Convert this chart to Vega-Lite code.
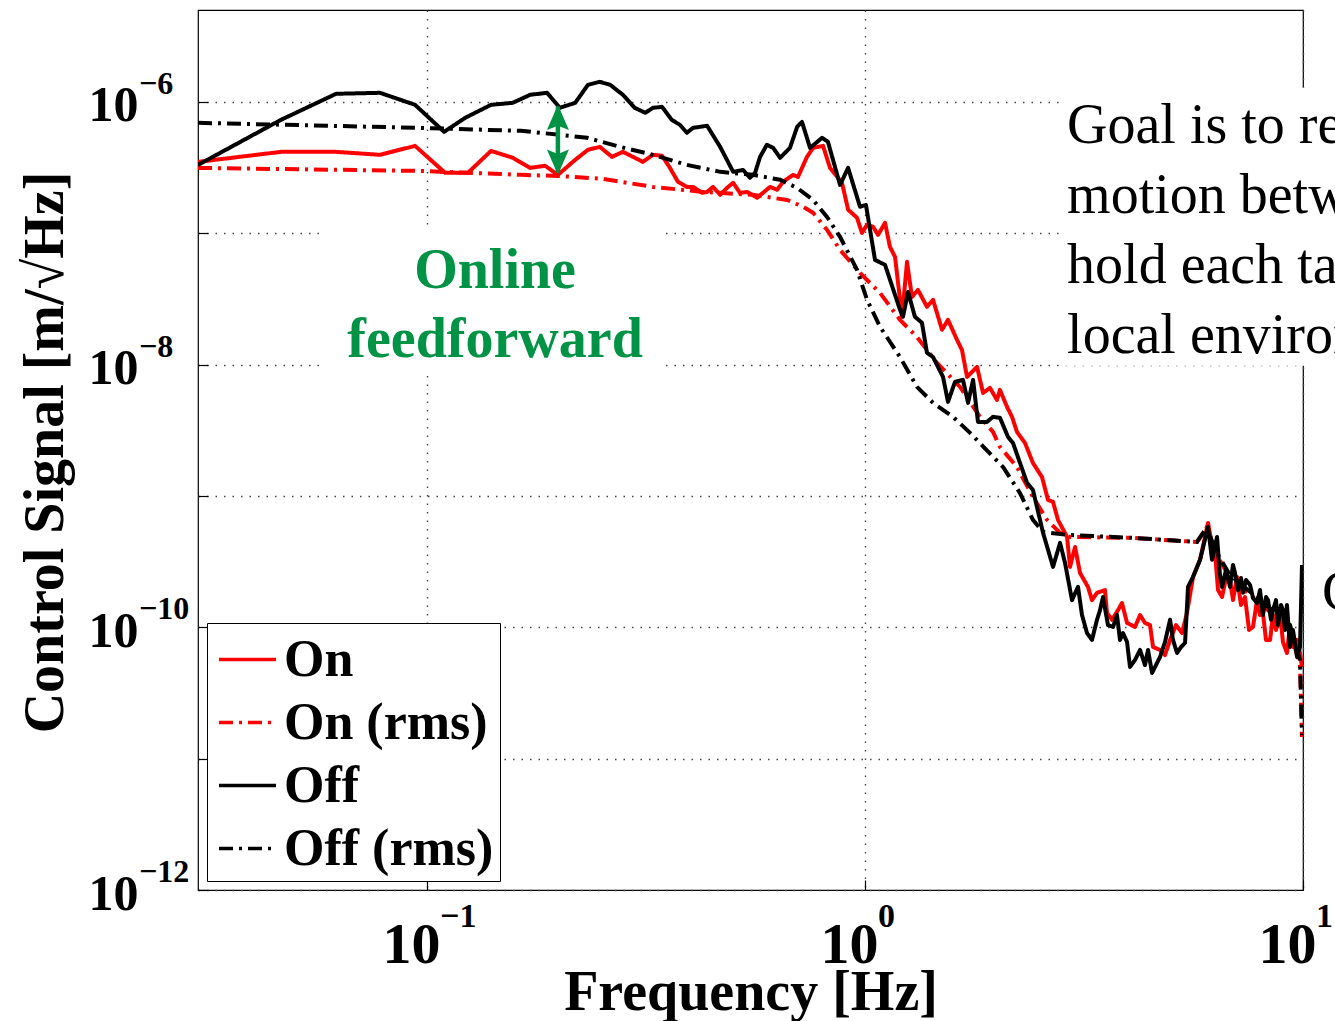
{
  "$schema": "https://vega.github.io/schema/vega-lite/v6.json",
  "width": 1105,
  "height": 880,
  "autosize": "none",
  "padding": {"left": 198, "top": 10, "right": 32, "bottom": 131},
  "background": "white",
  "config": {
    "view": {"stroke": "black", "strokeWidth": 1.2},
    "font": "Liberation Serif",
    "legend": {
      "orient": "bottom-left",
      "offset": 9,
      "fillColor": "white",
      "strokeColor": "black",
      "padding": 6,
      "symbolOffset": 4,
      "labelFont": "Liberation Serif",
      "labelFontWeight": "bold",
      "labelFontSize": 52,
      "labelColor": "black",
      "labelLimit": 500,
      "labelOffset": 6,
      "symbolType": "stroke",
      "symbolSize": 3249,
      "symbolStrokeWidth": 3.5,
      "rowPadding": 6
    }
  },
  "datasets": {
    "curves": [
      {"s":"On","f":0.0300,"v":3.49e-7},{"s":"On","f":0.0464,"v":4.16e-7},{"s":"On","f":0.0620,"v":4.16e-7},{"s":"On","f":0.0781,"v":3.95e-7},{"s":"On","f":0.0939,"v":4.62e-7},{"s":"On","f":0.110,"v":2.88e-7},{"s":"On","f":0.124,"v":2.88e-7},{"s":"On","f":0.140,"v":4.23e-7},{"s":"On","f":0.157,"v":3.75e-7},{"s":"On","f":0.172,"v":3.14e-7},{"s":"On","f":0.186,"v":3.26e-7},{"s":"On","f":0.199,"v":2.78e-7},{"s":"On","f":0.218,"v":3.62e-7},{"s":"On","f":0.233,"v":4.31e-7},{"s":"On","f":0.248,"v":4.54e-7},{"s":"On","f":0.2645,"v":3.81e-7},{"s":"On","f":0.280,"v":4.16e-7},{"s":"On","f":0.2953,"v":3.81e-7},{"s":"On","f":0.311,"v":3.49e-7},{"s":"On","f":0.328,"v":3.95e-7},{"s":"On","f":0.344,"v":3.88e-7},{"s":"On","f":0.3587,"v":3.14e-7},{"s":"On","f":0.374,"v":2.46e-7},{"s":"On","f":0.392,"v":2.25e-7},{"s":"On","f":0.405,"v":2.25e-7},{"s":"On","f":0.4245,"v":2.03e-7},{"s":"On","f":0.436,"v":2.06e-7},{"s":"On","f":0.4498,"v":2.25e-7},{"s":"On","f":0.467,"v":1.96e-7},{"s":"On","f":0.484,"v":2.21e-7},{"s":"On","f":0.500,"v":2.42e-7},{"s":"On","f":0.518,"v":2.03e-7},{"s":"On","f":0.538,"v":2.06e-7},{"s":"On","f":0.567,"v":1.86e-7},{"s":"On","f":0.585,"v":2.03e-7},{"s":"On","f":0.607,"v":2.25e-7},{"s":"On","f":0.630,"v":2.14e-7},{"s":"On","f":0.650,"v":2.46e-7},{"s":"On","f":0.685,"v":2.78e-7},{"s":"On","f":0.703,"v":2.68e-7},{"s":"On","f":0.737,"v":3.81e-7},{"s":"On","f":0.761,"v":4.46e-7},{"s":"On","f":0.802,"v":4.62e-7},{"s":"On","f":0.832,"v":3.14e-7},{"s":"On","f":0.886,"v":2.42e-7},{"s":"On","f":0.915,"v":1.51e-7},{"s":"On","f":0.959,"v":1.31e-7},{"s":"On","f":0.984,"v":1.006e-7},{"s":"On","f":1.011,"v":1.16e-7},{"s":"On","f":1.043,"v":1.12e-7},{"s":"On","f":1.071,"v":9.71e-8},{"s":"On","f":1.111,"v":1.20e-7},{"s":"On","f":1.140,"v":7.87e-8},{"s":"On","f":1.171,"v":6.60e-8},{"s":"On","f":1.215,"v":2.31e-8},{"s":"On","f":1.247,"v":6.05e-8},{"s":"On","f":1.280,"v":3.27e-8},{"s":"On","f":1.321,"v":3.70e-8},{"s":"On","f":1.385,"v":2.75e-8},{"s":"On","f":1.430,"v":3.11e-8},{"s":"On","f":1.499,"v":1.84e-8},{"s":"On","f":1.547,"v":2.19e-8},{"s":"On","f":1.622,"v":1.54e-8},{"s":"On","f":1.665,"v":1.29e-8},{"s":"On","f":1.710,"v":8.05e-9},{"s":"On","f":1.802,"v":9.60e-9},{"s":"On","f":1.860,"v":6.08e-9},{"s":"On","f":1.929,"v":6.64e-9},{"s":"On","f":2.001,"v":5.38e-9},{"s":"On","f":2.033,"v":6.41e-9},{"s":"On","f":2.110,"v":4.76e-9},{"s":"On","f":2.166,"v":4.00e-9},{"s":"On","f":2.223,"v":3.07e-9},{"s":"On","f":2.319,"v":2.53e-9},{"s":"On","f":2.418,"v":1.78e-9},{"s":"On","f":2.536,"v":1.39e-9},{"s":"On","f":2.617,"v":9.32e-10},{"s":"On","f":2.687,"v":9.00e-10},{"s":"On","f":2.758,"v":6.57e-10},{"s":"On","f":2.893,"v":4.87e-10},{"s":"On","f":2.938,"v":2.88e-10},{"s":"On","f":3.017,"v":4.09e-10},{"s":"On","f":3.097,"v":2.59e-10},{"s":"On","f":3.229,"v":2.03e-10},{"s":"On","f":3.298,"v":1.61e-10},{"s":"On","f":3.386,"v":1.83e-10},{"s":"On","f":3.531,"v":1.92e-10},{"s":"On","f":3.568,"v":1.29e-10},{"s":"On","f":3.664,"v":1.14e-10},{"s":"On","f":3.781,"v":1.35e-10},{"s":"On","f":3.861,"v":1.53e-10},{"s":"On","f":3.965,"v":1.08e-10},{"s":"On","f":4.135,"v":1.006e-10},{"s":"On","f":4.246,"v":1.24e-10},{"s":"On","f":4.357,"v":1.08e-10},{"s":"On","f":4.474,"v":1.04e-10},{"s":"On","f":4.546,"v":7.08e-11},{"s":"On","f":4.716,"v":6.72e-11},{"s":"On","f":4.841,"v":6.15e-11},{"s":"On","f":4.971,"v":8.01e-11},{"s":"On","f":5.129,"v":1.04e-10},{"s":"On","f":5.295,"v":9.05e-11},{"s":"On","f":5.435,"v":1.29e-10},{"s":"On","f":5.610,"v":2.42e-10},{"s":"On","f":5.820,"v":3.26e-10},{"s":"On","f":6.070,"v":6.23e-10},{"s":"On","f":6.198,"v":4.23e-10},{"s":"On","f":6.297,"v":3.68e-10},{"s":"On","f":6.397,"v":1.92e-10},{"s":"On","f":6.533,"v":1.70e-10},{"s":"On","f":6.672,"v":2.37e-10},{"s":"On","f":6.813,"v":2.29e-10},{"s":"On","f":6.922,"v":1.61e-10},{"s":"On","f":7.068,"v":2.42e-10},{"s":"On","f":7.218,"v":1.48e-10},{"s":"On","f":7.372,"v":1.70e-10},{"s":"On","f":7.53,"v":9.54e-11},{"s":"On","f":7.689,"v":1.006e-10},{"s":"On","f":7.852,"v":1.61e-10},{"s":"On","f":7.977,"v":1.24e-10},{"s":"On","f":8.10,"v":1.29e-10},{"s":"On","f":8.232,"v":8.01e-11},{"s":"On","f":8.41,"v":8.01e-11},{"s":"On","f":8.542,"v":1.24e-10},{"s":"On","f":8.677,"v":9.54e-11},{"s":"On","f":8.86,"v":1.29e-10},{"s":"On","f":9.000,"v":7.73e-11},{"s":"On","f":9.19,"v":6.37e-11},{"s":"On","f":9.339,"v":1.04e-10},{"s":"On","f":9.488,"v":7.08e-11},{"s":"On","f":9.690,"v":8.01e-11},{"s":"On","f":9.844,"v":6.37e-11},{"s":"On","f":9.947,"v":4.99e-11},
      {"s":"On (rms)","f":0.0300,"v":3.14e-7},{"s":"On (rms)","f":0.0954,"v":2.98e-7},{"s":"On (rms)","f":0.164,"v":2.78e-7},{"s":"On (rms)","f":0.199,"v":2.73e-7},{"s":"On (rms)","f":0.252,"v":2.59e-7},{"s":"On (rms)","f":0.328,"v":2.25e-7},{"s":"On (rms)","f":0.427,"v":2.06e-7},{"s":"On (rms)","f":0.555,"v":1.96e-7},{"s":"On (rms)","f":0.664,"v":1.79e-7},{"s":"On (rms)","f":0.722,"v":1.59e-7},{"s":"On (rms)","f":0.761,"v":1.43e-7},{"s":"On (rms)","f":0.819,"v":1.06e-7},{"s":"On (rms)","f":0.877,"v":7.46e-8},{"s":"On (rms)","f":0.974,"v":4.99e-8},{"s":"On (rms)","f":1.082,"v":3.51e-8},{"s":"On (rms)","f":1.202,"v":2.19e-8},{"s":"On (rms)","f":1.314,"v":1.62e-8},{"s":"On (rms)","f":1.460,"v":1.03e-8},{"s":"On (rms)","f":1.648,"v":6.76e-9},{"s":"On (rms)","f":1.830,"v":4.00e-9},{"s":"On (rms)","f":1.960,"v":3.07e-9},{"s":"On (rms)","f":2.033,"v":2.36e-9},{"s":"On (rms)","f":2.223,"v":1.66e-9},{"s":"On (rms)","f":2.418,"v":9.82e-10},{"s":"On (rms)","f":2.603,"v":6.57e-10},{"s":"On (rms)","f":2.788,"v":5.23e-10},{"s":"On (rms)","f":2.938,"v":4.87e-10},{"s":"On (rms)","f":4.091,"v":4.79e-10},{"s":"On (rms)","f":5.728,"v":4.46e-10},{"s":"On (rms)","f":6.038,"v":5.81e-10},{"s":"On (rms)","f":6.297,"v":3.75e-10},{"s":"On (rms)","f":6.813,"v":2.37e-10},{"s":"On (rms)","f":7.977,"v":1.53e-10},{"s":"On (rms)","f":9.339,"v":9.54e-11},{"s":"On (rms)","f":9.844,"v":5.16e-11},{"s":"On (rms)","f":9.947,"v":1.46e-11},
      {"s":"Off","f":0.0300,"v":3.31e-7},{"s":"Off","f":0.0464,"v":7.29e-7},{"s":"Off","f":0.0620,"v":1.151e-6},{"s":"Off","f":0.0781,"v":1.171e-6},{"s":"Off","f":0.0939,"v":9.49e-7},{"s":"Off","f":0.1094,"v":5.91e-7},{"s":"Off","f":0.1222,"v":7.55e-7},{"s":"Off","f":0.140,"v":9.49e-7},{"s":"Off","f":0.157,"v":9.83e-7},{"s":"Off","f":0.172,"v":1.131e-6},{"s":"Off","f":0.188,"v":1.171e-6},{"s":"Off","f":0.201,"v":9.00e-7},{"s":"Off","f":0.218,"v":9.83e-7},{"s":"Off","f":0.233,"v":1.347e-6},{"s":"Off","f":0.248,"v":1.420e-6},{"s":"Off","f":0.262,"v":1.347e-6},{"s":"Off","f":0.280,"v":1.131e-6},{"s":"Off","f":0.298,"v":9.00e-7},{"s":"Off","f":0.315,"v":8.25e-7},{"s":"Off","f":0.328,"v":9.00e-7},{"s":"Off","f":0.344,"v":9.16e-7},{"s":"Off","f":0.362,"v":7.29e-7},{"s":"Off","f":0.378,"v":6.68e-7},{"s":"Off","f":0.392,"v":5.81e-7},{"s":"Off","f":0.405,"v":6.34e-7},{"s":"Off","f":0.436,"v":6.57e-7},{"s":"Off","f":0.467,"v":4.54e-7},{"s":"Off","f":0.500,"v":2.93e-7},{"s":"Off","f":0.527,"v":3.03e-7},{"s":"Off","f":0.546,"v":2.64e-7},{"s":"Off","f":0.561,"v":2.88e-7},{"s":"Off","f":0.576,"v":3.81e-7},{"s":"Off","f":0.597,"v":4.71e-7},{"s":"Off","f":0.617,"v":4.46e-7},{"s":"Off","f":0.640,"v":3.75e-7},{"s":"Off","f":0.674,"v":4.46e-7},{"s":"Off","f":0.700,"v":6.45e-7},{"s":"Off","f":0.718,"v":7.04e-7},{"s":"Off","f":0.749,"v":4.46e-7},{"s":"Off","f":0.798,"v":5.32e-7},{"s":"Off","f":0.823,"v":4.96e-7},{"s":"Off","f":0.877,"v":2.33e-7},{"s":"Off","f":0.915,"v":3.14e-7},{"s":"Off","f":0.974,"v":1.59e-7},{"s":"Off","f":1.005,"v":1.64e-7},{"s":"Off","f":1.054,"v":6.26e-8},{"s":"Off","f":1.111,"v":5.74e-8},{"s":"Off","f":1.202,"v":2.61e-8},{"s":"Off","f":1.221,"v":2.31e-8},{"s":"Off","f":1.254,"v":3.57e-8},{"s":"Off","f":1.300,"v":2.31e-8},{"s":"Off","f":1.349,"v":2.08e-8},{"s":"Off","f":1.385,"v":1.23e-8},{"s":"Off","f":1.430,"v":1.14e-8},{"s":"Off","f":1.507,"v":8.05e-9},{"s":"Off","f":1.547,"v":5.20e-9},{"s":"Off","f":1.605,"v":7.38e-9},{"s":"Off","f":1.674,"v":7.64e-9},{"s":"Off","f":1.719,"v":5.11e-9},{"s":"Off","f":1.765,"v":7.64e-9},{"s":"Off","f":1.811,"v":3.66e-9},{"s":"Off","f":1.899,"v":3.66e-9},{"s":"Off","f":1.960,"v":4.00e-9},{"s":"Off","f":2.033,"v":3.93e-9},{"s":"Off","f":2.121,"v":2.81e-9},{"s":"Off","f":2.177,"v":2.53e-9},{"s":"Off","f":2.343,"v":1.26e-9},{"s":"Off","f":2.418,"v":1.11e-9},{"s":"Off","f":2.550,"v":5.23e-10},{"s":"Off","f":2.687,"v":2.88e-10},{"s":"Off","f":2.788,"v":4.39e-10},{"s":"Off","f":2.862,"v":3.09e-10},{"s":"Off","f":2.969,"v":1.61e-10},{"s":"Off","f":3.064,"v":2.03e-10},{"s":"Off","f":3.129,"v":1.24e-10},{"s":"Off","f":3.212,"v":9.05e-11},{"s":"Off","f":3.298,"v":8.01e-11},{"s":"Off","f":3.386,"v":1.14e-10},{"s":"Off","f":3.440,"v":1.35e-10},{"s":"Off","f":3.494,"v":1.70e-10},{"s":"Off","f":3.587,"v":1.04e-10},{"s":"Off","f":3.684,"v":1.006e-10},{"s":"Off","f":3.761,"v":1.24e-10},{"s":"Off","f":3.821,"v":8.01e-11},{"s":"Off","f":3.882,"v":9.05e-11},{"s":"Off","f":3.965,"v":7.73e-11},{"s":"Off","f":4.027,"v":4.99e-11},{"s":"Off","f":4.135,"v":5.64e-11},{"s":"Off","f":4.246,"v":6.72e-11},{"s":"Off","f":4.357,"v":5.16e-11},{"s":"Off","f":4.428,"v":6.72e-11},{"s":"Off","f":4.522,"v":4.49e-11},{"s":"Off","f":4.617,"v":5.16e-11},{"s":"Off","f":4.716,"v":5.94e-11},{"s":"Off","f":4.841,"v":7.73e-11},{"s":"Off","f":4.971,"v":1.14e-10},{"s":"Off","f":5.050,"v":8.01e-11},{"s":"Off","f":5.157,"v":6.37e-11},{"s":"Off","f":5.267,"v":7.08e-11},{"s":"Off","f":5.379,"v":7.60e-11},{"s":"Off","f":5.464,"v":2.03e-10},{"s":"Off","f":5.610,"v":2.42e-10},{"s":"Off","f":5.820,"v":3.26e-10},{"s":"Off","f":6.070,"v":5.81e-10},{"s":"Off","f":6.198,"v":3.26e-10},{"s":"Off","f":6.364,"v":4.87e-10},{"s":"Off","f":6.463,"v":2.50e-10},{"s":"Off","f":6.533,"v":2.03e-10},{"s":"Off","f":6.672,"v":2.73e-10},{"s":"Off","f":6.813,"v":2.03e-10},{"s":"Off","f":6.922,"v":2.98e-10},{"s":"Off","f":6.994,"v":2.59e-10},{"s":"Off","f":7.106,"v":1.92e-10},{"s":"Off","f":7.218,"v":2.37e-10},{"s":"Off","f":7.295,"v":1.83e-10},{"s":"Off","f":7.411,"v":2.29e-10},{"s":"Off","f":7.57,"v":2.10e-10},{"s":"Off","f":7.689,"v":1.67e-10},{"s":"Off","f":7.852,"v":1.53e-10},{"s":"Off","f":7.977,"v":1.92e-10},{"s":"Off","f":8.10,"v":1.24e-10},{"s":"Off","f":8.232,"v":1.70e-10},{"s":"Off","f":8.32,"v":1.61e-10},{"s":"Off","f":8.451,"v":1.14e-10},{"s":"Off","f":8.542,"v":1.35e-10},{"s":"Off","f":8.677,"v":1.61e-10},{"s":"Off","f":8.77,"v":1.04e-10},{"s":"Off","f":8.908,"v":1.48e-10},{"s":"Off","f":9.000,"v":1.35e-10},{"s":"Off","f":9.098,"v":9.54e-11},{"s":"Off","f":9.19,"v":1.48e-10},{"s":"Off","f":9.339,"v":7.08e-11},{"s":"Off","f":9.488,"v":9.54e-11},{"s":"Off","f":9.690,"v":5.94e-11},{"s":"Off","f":9.844,"v":7.08e-11},{"s":"Off","f":9.947,"v":2.98e-10},
      {"s":"Off (rms)","f":0.0300,"v":6.92e-7},{"s":"Off (rms)","f":0.0954,"v":6.34e-7},{"s":"Off (rms)","f":0.164,"v":6.01e-7},{"s":"Off (rms)","f":0.201,"v":5.61e-7},{"s":"Off (rms)","f":0.232,"v":5.32e-7},{"s":"Off (rms)","f":0.276,"v":4.54e-7},{"s":"Off (rms)","f":0.328,"v":3.95e-7},{"s":"Off (rms)","f":0.392,"v":3.31e-7},{"s":"Off (rms)","f":0.467,"v":2.93e-7},{"s":"Off (rms)","f":0.555,"v":2.78e-7},{"s":"Off (rms)","f":0.640,"v":2.55e-7},{"s":"Off (rms)","f":0.700,"v":2.21e-7},{"s":"Off (rms)","f":0.761,"v":1.79e-7},{"s":"Off (rms)","f":0.819,"v":1.33e-7},{"s":"Off (rms)","f":0.877,"v":9.38e-8},{"s":"Off (rms)","f":0.959,"v":5.26e-8},{"s":"Off (rms)","f":1.011,"v":3.11e-8},{"s":"Off (rms)","f":1.082,"v":1.94e-8},{"s":"Off (rms)","f":1.202,"v":1.14e-8},{"s":"Off (rms)","f":1.314,"v":6.76e-9},{"s":"Off (rms)","f":1.430,"v":5.11e-9},{"s":"Off (rms)","f":1.588,"v":4.00e-9},{"s":"Off (rms)","f":1.737,"v":3.02e-9},{"s":"Off (rms)","f":2.066,"v":1.66e-9},{"s":"Off (rms)","f":2.259,"v":1.05e-9},{"s":"Off (rms)","f":2.418,"v":6.57e-10},{"s":"Off (rms)","f":2.550,"v":5.32e-10},{"s":"Off (rms)","f":2.893,"v":5.05e-10},{"s":"Off (rms)","f":4.091,"v":4.79e-10},{"s":"Off (rms)","f":5.728,"v":4.46e-10},{"s":"Off (rms)","f":6.038,"v":5.81e-10},{"s":"Off (rms)","f":6.297,"v":3.88e-10},{"s":"Off (rms)","f":6.813,"v":2.50e-10},{"s":"Off (rms)","f":7.977,"v":1.61e-10},{"s":"Off (rms)","f":9.339,"v":1.04e-10},{"s":"Off (rms)","f":9.844,"v":5.64e-11},{"s":"Off (rms)","f":9.947,"v":1.51e-11}
    ],
    "yexp": [
      {"v": 1e-6, "e": "−6"}, {"v": 1e-8, "e": "−8"}, {"v": 1e-10, "e": "−10"}, {"v": 1e-12, "e": "−12"}
    ],
    "xexp": [
      {"f": 0.1, "e": "−1"}, {"f": 1, "e": "0"}, {"f": 10, "e": "1"}
    ]
  },
  "layer": [
    {
      "data": {"values": [{}]},
      "mark": {"type": "rect", "color": "white"},
      "encoding": {
        "x": {"datum": 0.0576, "type": "quantitative"},
        "x2": {"datum": 0.34},
        "y": {"datum": 1.10e-7, "type": "quantitative"},
        "y2": {"datum": 8.34e-9}
      }
    },
    {
      "data": {"values": [{}]},
      "mark": {"type": "rect", "color": "white"},
      "encoding": {
        "x": {"datum": 2.80, "type": "quantitative"},
        "x2": {"datum": 20},
        "y": {"datum": 1.278e-6, "type": "quantitative"},
        "y2": {"datum": 9.77e-9}
      }
    },
    {
      "data": {"name": "curves"},
      "encoding": {
        "x": {
          "field": "f", "type": "quantitative",
          "scale": {"type": "log", "domain": [0.03, 10], "nice": false, "zero": false},
          "axis": {
            "values": [0.1, 1, 10],
            "labelExpr": "'10'",
            "labelFont": "Liberation Serif", "labelFontWeight": "bold", "labelFontSize": 58, "labelColor": "black",
            "labelFlush": false, "labelOverlap": false, "labelBaseline": "alphabetic", "labelAlign": "right",
            "labelOffset": 13, "labelPadding": 82,
            "ticks": true, "tickSize": -10, "tickColor": "black", "tickWidth": 1.2, "domain": false,
            "grid": true, "gridColor": "#444444", "gridDash": [1.5, 7], "gridWidth": 1.4,
            "title": "Frequency [Hz]", "titleFont": "Liberation Serif", "titleFontWeight": "bold", "titleFontSize": 56,
            "titleColor": "black", "titleBaseline": "alphabetic", "titleY": 119
          }
        },
        "y": {
          "field": "v", "type": "quantitative",
          "scale": {"type": "log", "domain": [1e-12, 5e-6], "nice": false, "zero": false},
          "axis": {
            "values": [1e-12, 1e-11, 1e-10, 1e-9, 1e-8, 1e-7, 1e-6],
            "labelExpr": "round(log(datum.value)/LN10) % 2 == 0 ? '10' : ''",
            "labelFont": "Liberation Serif", "labelFontWeight": "bold", "labelFontSize": 50, "labelColor": "black",
            "labelAlign": "right", "labelBaseline": "middle", "labelPadding": 70, "labelOffset": 4, "labelOverlap": false, "labelFlush": false,
            "ticks": true, "tickSize": -10, "tickColor": "black", "tickWidth": 1.2, "domain": false,
            "grid": true, "gridColor": "#444444", "gridDash": [1.5, 7], "gridWidth": 1.4,
            "title": "Control Signal [m/√Hz]", "titleFont": "Liberation Serif", "titleFontWeight": "bold", "titleFontSize": 56,
            "titleColor": "black", "titleAngle": -90, "titleBaseline": "alphabetic", "titleAlign": "center",
            "titleX": -136, "titleY": 442
          }
        },
        "color": {
          "field": "s", "type": "nominal", "title": null,
          "scale": {"domain": ["On", "On (rms)", "Off", "Off (rms)"], "range": ["#ff0000", "#ff0000", "#000000", "#000000"]}
        },
        "strokeDash": {
          "field": "s", "type": "nominal", "title": null,
          "scale": {"domain": ["On", "On (rms)", "Off", "Off (rms)"], "range": [[1, 0], [14, 6, 3, 6], [1, 0], [14, 6, 3, 6]]}
        }
      },
      "layer": [
        {"transform": [{"filter": "datum.s === 'On'"}], "mark": {"type": "line", "strokeWidth": 4, "clip": true, "strokeJoin": "round"}},
        {"transform": [{"filter": "datum.s === 'On (rms)'"}], "mark": {"type": "line", "strokeWidth": 4, "clip": true}},
        {"transform": [{"filter": "datum.s === 'Off'"}], "mark": {"type": "line", "strokeWidth": 4, "clip": true, "strokeJoin": "round"}},
        {"transform": [{"filter": "datum.s === 'Off (rms)'"}], "mark": {"type": "line", "strokeWidth": 4, "clip": true}}
      ]
    },
    {
      "data": {"name": "yexp"},
      "mark": {"type": "text", "font": "Liberation Serif", "fontWeight": "bold", "fontSize": 32, "color": "black", "align": "left", "baseline": "alphabetic", "dx": -59, "dy": -8},
      "encoding": {
        "x": {"datum": 0.03, "type": "quantitative"},
        "y": {"field": "v", "type": "quantitative"},
        "text": {"field": "e"}
      }
    },
    {
      "data": {"name": "xexp"},
      "mark": {"type": "text", "font": "Liberation Serif", "fontWeight": "bold", "fontSize": 34, "color": "black", "align": "left", "baseline": "alphabetic", "dx": 13, "dy": 37},
      "encoding": {
        "x": {"field": "f", "type": "quantitative"},
        "y": {"datum": 1e-12, "type": "quantitative"},
        "text": {"field": "e"}
      }
    },
    {
      "data": {"values": [{}]},
      "mark": {"type": "rule", "color": "#009245", "strokeWidth": 4.5},
      "encoding": {
        "x": {"datum": 0.199, "type": "quantitative"},
        "y": {"datum": 9.2e-7, "type": "quantitative"},
        "y2": {"datum": 2.9e-7}
      }
    },
    {
      "data": {"values": [{"tip": "top"}]},
      "mark": {"type": "point", "filled": true, "color": "#009245", "opacity": 1, "shape": "M0,0L-1,2.3L0,1.9L1,2.3Z", "size": 484},
      "encoding": {
        "x": {"datum": 0.199, "type": "quantitative"},
        "y": {"datum": 9.49e-7, "type": "quantitative"}
      }
    },
    {
      "data": {"values": [{"tip": "bottom"}]},
      "mark": {"type": "point", "filled": true, "color": "#009245", "opacity": 1, "shape": "M0,0L-1,-2.3L0,-1.9L1,-2.3Z", "size": 484},
      "encoding": {
        "x": {"datum": 0.199, "type": "quantitative"},
        "y": {"datum": 2.78e-7, "type": "quantitative"}
      }
    },
    {
      "data": {"values": [{"note": "Online\nfeedforward"}]},
      "mark": {"type": "text", "font": "Liberation Serif", "fontWeight": "bold", "fontSize": 56, "color": "#009245", "align": "center", "baseline": "alphabetic", "lineBreak": "\n", "lineHeight": 69},
      "encoding": {
        "x": {"datum": 0.143, "type": "quantitative"},
        "y": {"datum": 3.83e-8, "type": "quantitative"},
        "text": {"field": "note"}
      }
    },
    {
      "data": {"values": [{"note": "Goal is to reduce\nmotion between\nhold each table\nlocal environment"}]},
      "mark": {"type": "text", "font": "Liberation Serif", "fontSize": 56, "color": "black", "align": "left", "baseline": "alphabetic", "lineBreak": "\n", "lineHeight": 70},
      "encoding": {
        "x": {"datum": 2.893, "type": "quantitative"},
        "y": {"datum": 4.87e-7, "type": "quantitative"},
        "text": {"field": "note"}
      }
    },
    {
      "data": {"values": [{"note": "C"}]},
      "mark": {"type": "text", "font": "Liberation Serif", "fontSize": 56, "color": "black", "align": "left", "baseline": "alphabetic"},
      "encoding": {
        "x": {"datum": 11.05, "type": "quantitative"},
        "y": {"datum": 1.35e-10, "type": "quantitative"},
        "text": {"field": "note"}
      }
    }
  ]
}
